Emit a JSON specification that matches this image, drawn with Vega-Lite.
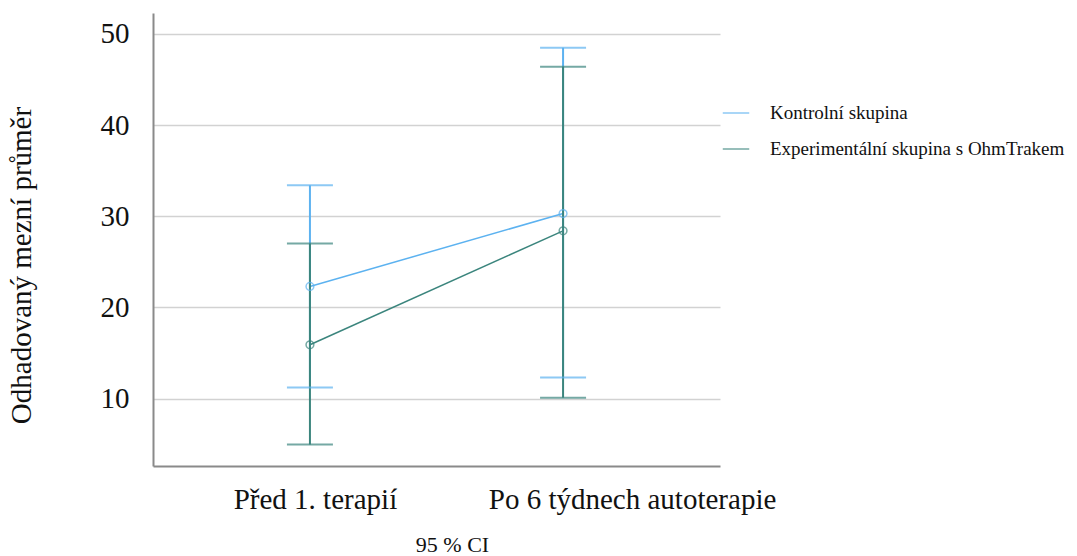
{
  "$schema": "https://vega.github.io/schema/vega-lite/v6.json",
  "width": 567,
  "height": 453,
  "autosize": {"type": "none"},
  "padding": {"left": 153, "top": 13, "right": 357, "bottom": 90},
  "background": "white",
  "config": {
    "view": {"stroke": null},
    "font": "Liberation Serif",
    "axis": {"labelFont": "Liberation Serif", "titleFont": "Liberation Serif", "labelColor": "#111", "titleColor": "#111", "titleFontWeight": "normal"},
    "legend": {"labelFont": "Liberation Serif"}
  },
  "data": {
    "values": [
      {"group": "Kontrolní skupina", "time": "Před 1. terapií", "mean": 22.3, "lo": 11.2, "hi": 33.4},
      {"group": "Kontrolní skupina", "time": "Po 6 týdnech autoterapie", "mean": 30.3, "lo": 12.3, "hi": 48.5},
      {"group": "Experimentální skupina s OhmTrakem", "time": "Před 1. terapií", "mean": 15.9, "lo": 4.95, "hi": 27.0},
      {"group": "Experimentální skupina s OhmTrakem", "time": "Po 6 týdnech autoterapie", "mean": 28.4, "lo": 10.1, "hi": 46.4}
    ]
  },
  "encoding": {
    "x": {
      "field": "time", "type": "nominal",
      "sort": ["Před 1. terapií", "Po 6 týdnech autoterapie"],
      "scale": {"type": "point", "padding": 0.62},
      "axis": {
        "title": "95 % CI", "titleFontSize": 22, "titlePadding": 20, "titleX": 299,
        "labelAngle": 0, "labelFontSize": 29, "labelPadding": 19, "labelLimit": 0,
        "labelOffset": {"condition": {"test": "datum.value === 'Po 6 týdnech autoterapie'", "value": 69}, "value": 5},
        "ticks": false, "grid": false,
        "domainColor": "#8a8a8a", "domainWidth": 2
      }
    },
    "color": {
      "field": "group", "type": "nominal",
      "scale": {"domain": ["Kontrolní skupina", "Experimentální skupina s OhmTrakem"], "range": ["#5cb2f0", "#3b857d"]},
      "legend": {
        "title": null, "orient": "none", "legendX": 569, "legendY": 86,
        "symbolType": "stroke", "symbolSize": 700, "symbolStrokeWidth": 1.5,
        "labelFontSize": 19, "labelColor": "#111", "rowPadding": 12, "labelOffset": 20, "labelLimit": 0
      }
    }
  },
  "layer": [
    {
      "mark": {"type": "line", "strokeWidth": 1.5},
      "encoding": {
        "y": {
          "field": "mean", "type": "quantitative",
          "scale": {"domain": [2.6, 52.3], "nice": false, "zero": false},
          "axis": {
            "title": "Odhadovaný mezní průměr", "titleFontSize": 29, "titlePadding": 64, "titleY": 252,
            "values": [10, 20, 30, 40, 50], "labelFontSize": 29, "labelPadding": 24,
            "ticks": false, "grid": true, "gridColor": "#d2d2d2", "gridWidth": 1.5,
            "domainColor": "#8a8a8a", "domainWidth": 2
          }
        }
      }
    },
    {
      "mark": {"type": "rule", "strokeWidth": 2},
      "encoding": {"y": {"field": "lo", "type": "quantitative"}, "y2": {"field": "hi"}}
    },
    {
      "mark": {"type": "tick", "size": 46, "thickness": 2},
      "encoding": {"y": {"field": "lo", "type": "quantitative"}}
    },
    {
      "mark": {"type": "tick", "size": 46, "thickness": 2},
      "encoding": {"y": {"field": "hi", "type": "quantitative"}}
    },
    {
      "mark": {"type": "point", "filled": false, "size": 60, "strokeWidth": 1.5},
      "encoding": {"y": {"field": "mean", "type": "quantitative"}}
    }
  ]
}
